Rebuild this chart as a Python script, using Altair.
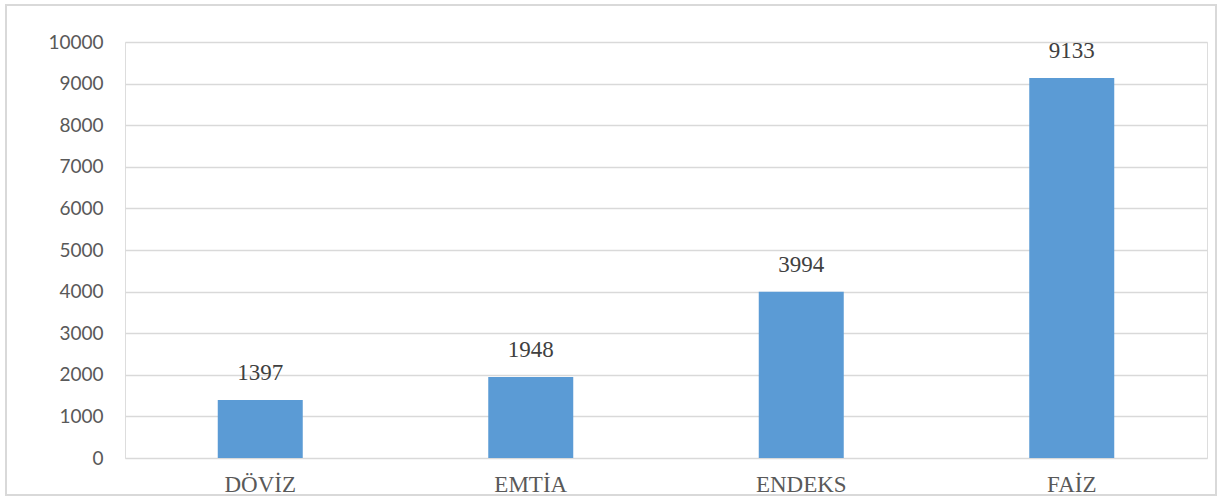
import altair as alt
import pandas as pd

# Category names and counts
categories = ["DÖVİZ", "EMTİA", "ENDEKS", "FAİZ"]
counts = [1397, 1948, 3994, 9133]
y_ticks = list(range(0, 10001, 1000))

df = pd.DataFrame({"kategori": categories, "adet": counts})

W, H = 1082, 416
SERIF = "Liberation Serif, Times New Roman, serif"

base = alt.Chart(df).encode(
    x=alt.X(
        "kategori:N",
        sort=categories,
        scale=alt.Scale(paddingInner=0, paddingOuter=0),
        axis=alt.Axis(
            title=None,
            labelAngle=0,
            labelFont=SERIF,
            labelFontSize=23,
            labelColor="#595959",
            labelPadding=15,
            ticks=False,
            domain=False,
            grid=False,
        ),
    ),
    y=alt.Y(
        "adet:Q",
        scale=alt.Scale(domain=[0, 10000], nice=False),
        axis=alt.Axis(
            title=None,
            values=y_ticks,
            format="d",
            labelFont="Lato",
            labelFontSize=19,
            labelColor="#595959",
            labelPadding=22,
            ticks=False,
            domain=False,
            gridColor="#D9D9D9",
            gridWidth=1.3,
        ),
    ),
)

bars = base.mark_bar(size=85, color="#5B9BD5")

labels = base.mark_text(
    baseline="bottom",
    dy=-15,
    font=SERIF,
    fontSize=23,
    color="#404040",
).encode(text=alt.Text("adet:Q", format="d"))

# Light frame around the whole figure
frame = alt.Chart(df).mark_rect(
    fill=None, stroke="#D9D9D9", strokeWidth=2
).encode(
    x=alt.value(-119),
    x2=alt.value(1091),
    y=alt.value(-37),
    y2=alt.value(453),
)

chart = (
    alt.layer(bars, labels, frame)
    .properties(
        width=W,
        height=H,
        padding={"left": 125, "top": 42, "right": 10, "bottom": 39},
        autosize=alt.AutoSizeParams(type="none"),
    )
    .configure_view(stroke=None)
    .configure_text(font=SERIF)
    .configure(background="white")
)

chart.save("out.html", embed_options={"renderer": "svg", "actions": False})
